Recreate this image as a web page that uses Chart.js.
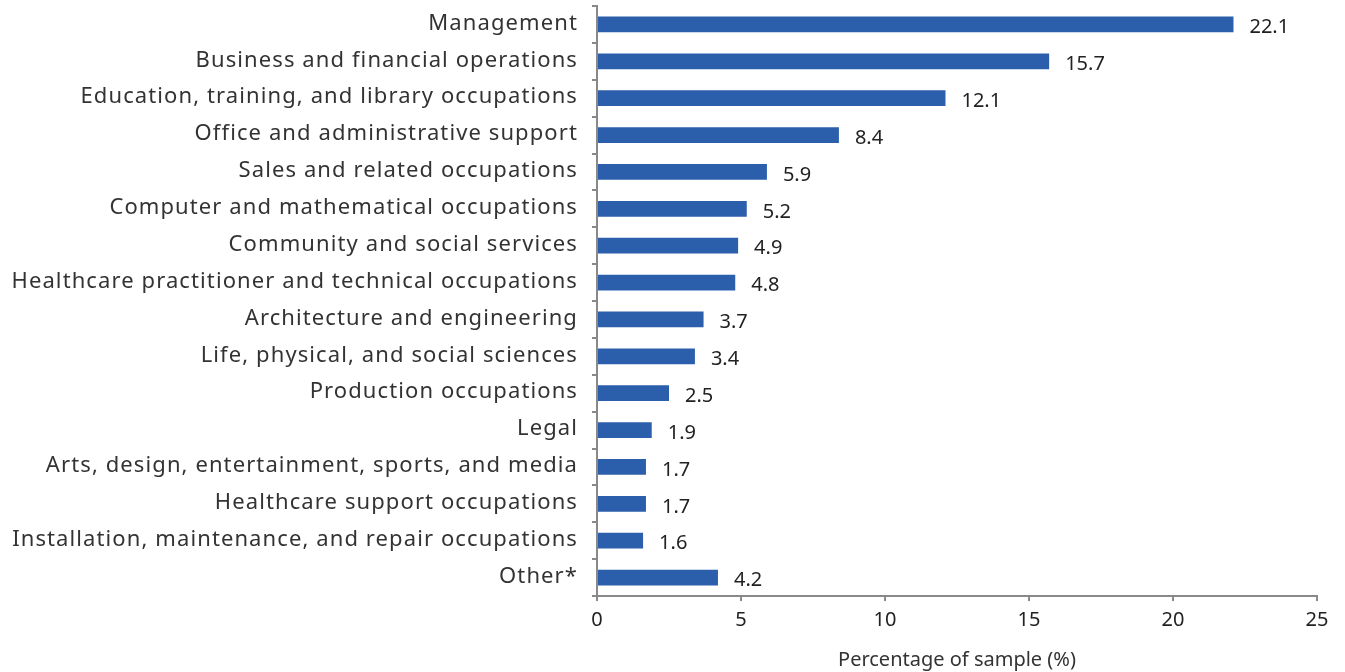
<!DOCTYPE html>
<html>
<head>
<meta charset="utf-8">
<script src="https://cdn.jsdelivr.net/npm/chart.js@4"></script>
<style>
  html, body { margin: 0; padding: 0; background: #fff; }
  #wrap { width: 1345px; height: 672px; position: relative; }
</style>
</head>
<body>
<div id="wrap"><canvas id="chart"></canvas></div>
<script>
const categories = [
  "Management",
  "Business and financial operations",
  "Education, training, and library occupations",
  "Office and administrative support",
  "Sales and related occupations",
  "Computer and mathematical occupations",
  "Community and social services",
  "Healthcare practitioner and technical occupations",
  "Architecture and engineering",
  "Life, physical, and social sciences",
  "Production occupations",
  "Legal",
  "Arts, design, entertainment, sports, and media",
  "Healthcare support occupations",
  "Installation, maintenance, and repair occupations",
  "Other*"
];
const shares = [22.1, 15.7, 12.1, 8.4, 5.9, 5.2, 4.9, 4.8, 3.7, 3.4, 2.5, 1.9, 1.7, 1.7, 1.6, 4.2];
const xTicks = [0, 5, 10, 15, 20, 25];
const xTitle = "Percentage of sample (%)";

const axisGrey = "#898989";
const fontFamily = "'Noto Sans', 'Open Sans', sans-serif";

// category names: drawn by hand so the wide letter spacing of the original can be kept
const categoryLabels = {
  id: "categoryLabels",
  afterDraw(chart) {
    const ctx = chart.ctx;
    const y = chart.scales.y;
    ctx.save();
    ctx.font = "22px " + fontFamily;
    ctx.letterSpacing = "1.1px";
    ctx.fillStyle = "#333";
    ctx.textAlign = "right";
    ctx.textBaseline = "middle";
    categories.forEach((name, i) => {
      ctx.fillText(name, y.right - 19, y.getPixelForTick(i) - 1);
    });
    ctx.restore();
  }
};

// writes the value just past the end of each bar
const valueLabels = {
  id: "valueLabels",
  afterDatasetsDraw(chart) {
    const ctx = chart.ctx;
    const meta = chart.getDatasetMeta(0);
    ctx.save();
    ctx.font = "20px " + fontFamily;
    ctx.fillStyle = "#222";
    ctx.textAlign = "left";
    ctx.textBaseline = "middle";
    meta.data.forEach((bar, i) => {
      ctx.fillText(shares[i].toFixed(1), bar.x + 16, bar.y + 3);
    });
    ctx.restore();
  }
};

new Chart(document.getElementById("chart"), {
  type: "bar",
  data: {
    labels: categories,
    datasets: [{
      data: shares,
      backgroundColor: "#2b5eab",
      borderWidth: 0,
      barPercentage: 0.86,
      categoryPercentage: 0.5
    }]
  },
  options: {
    indexAxis: "y",
    responsive: true,
    maintainAspectRatio: false,
    animation: false,
    layout: { padding: { left: 0, right: 28, top: 6, bottom: 0 } },
    plugins: {
      legend: { display: false },
      tooltip: { enabled: false }
    },
    scales: {
      x: {
        min: 0,
        max: 25,
        afterBuildTicks(scale) { scale.ticks = xTicks.map(v => ({ value: v })); },
        afterFit(scale) { scale.height = 76; },
        grid: { drawOnChartArea: false, tickLength: 5, color: axisGrey, lineWidth: 2 },
        border: { color: axisGrey, width: 2 },
        ticks: { color: "#222", font: { size: 20, family: fontFamily }, padding: 7, maxRotation: 0 },
        title: {
          display: true,
          text: xTitle,
          color: "#333",
          font: { size: 20, family: fontFamily },
          padding: { top: 1, bottom: 0 }
        }
      },
      y: {
        offset: true,
        afterFit(scale) {
          scale.width = 597;
          scale.paddingTop = 0;
          scale.paddingBottom = 0;
        },
        grid: { drawOnChartArea: false, offset: true, tickLength: 5, color: axisGrey, lineWidth: 2 },
        border: { color: axisGrey, width: 2 },
        ticks: { display: false, autoSkip: false }
      }
    }
  },
  plugins: [valueLabels, categoryLabels]
});
</script>
</body>
</html>
